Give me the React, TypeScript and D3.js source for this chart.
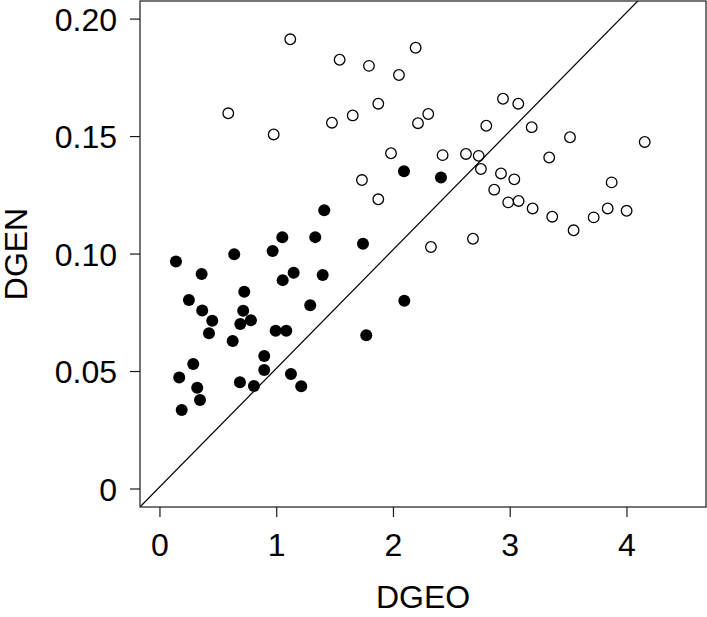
import React from "react";
import * as d3 from "d3";

// DGEO (x) and DGEN (y) values, open circles
const openX = [1.116, 0.585, 0.974, 1.539, 1.790, 2.047, 2.190, 1.473, 1.651, 1.870, 2.210, 2.298, 1.979, 2.421, 1.730, 1.870, 2.621, 2.730, 2.749, 2.938, 3.069, 2.795, 3.184, 3.512, 4.152, 3.334, 2.921, 3.035, 2.863, 3.869, 2.983, 3.072, 3.192, 3.360, 3.715, 3.835, 3.997, 3.543, 2.321, 2.681];
const openY = [0.1914, 0.1599, 0.1509, 0.1827, 0.1801, 0.1762, 0.1878, 0.1559, 0.1590, 0.1640, 0.1557, 0.1596, 0.1429, 0.1421, 0.1315, 0.1233, 0.1426, 0.1418, 0.1362, 0.1661, 0.1640, 0.1546, 0.1540, 0.1497, 0.1477, 0.1411, 0.1343, 0.1318, 0.1274, 0.1305, 0.1220, 0.1226, 0.1194, 0.1159, 0.1156, 0.1194, 0.1184, 0.1101, 0.1030, 0.1065];

// filled circles
const filledX = [0.137, 0.636, 0.965, 0.357, 1.051, 1.145, 1.394, 0.248, 0.722, 0.362, 0.713, 0.448, 0.688, 0.779, 0.420, 0.991, 1.082, 1.287, 0.623, 1.767, 0.893, 0.285, 0.893, 0.165, 1.122, 0.685, 0.319, 0.805, 1.210, 0.343, 0.186, 2.093, 1.407, 1.048, 1.330, 1.739, 2.090, 2.407];
const filledY = [0.0968, 0.0999, 0.1013, 0.0915, 0.0889, 0.0920, 0.0911, 0.0804, 0.0840, 0.0760, 0.0759, 0.0716, 0.0702, 0.0718, 0.0663, 0.0674, 0.0674, 0.0782, 0.0630, 0.0654, 0.0566, 0.0532, 0.0506, 0.0475, 0.0489, 0.0454, 0.0431, 0.0438, 0.0437, 0.0379, 0.0336, 0.0801, 0.1186, 0.1071, 0.1072, 0.1044, 0.1352, 0.1326];

const xTicks = [0, 1, 2, 3, 4];
const xTickLabels = ["0", "1", "2", "3", "4"];
const yTicks = [0, 0.05, 0.1, 0.15, 0.2];
const yTickLabels = ["0", "0.05", "0.10", "0.15", "0.20"];

// reference line y = a + b x
const lineIntercept = 0.001;
const lineSlope = 0.0505;

const W = 707;
const H = 617;
const L = 140, R = 706, T = 1, B = 507;
const FONT = "'Liberation Sans', Arial, Helvetica, sans-serif";
const FS = 32;

export default function App() {
  const x = d3.scaleLinear().domain([-0.171, 4.677]).range([L, R]);
  const y = d3.scaleLinear().domain([-0.00766, 0.2077]).range([B, T]);
  const lx = [-0.3, 4.8];
  const linePath = d3.line<number>()
    .x((d) => x(d))
    .y((d) => y(lineIntercept + lineSlope * d))(lx) as string;
  const stroke = "#1a1a1a";
  return (
    <svg width={W} height={H} style={{ position: "absolute", left: 0, top: 0, background: "#fff" }} fontFamily={FONT}>
      <defs>
        <clipPath id="plotclip">
          <rect x={L} y={T} width={R - L} height={B - T} />
        </clipPath>
      </defs>
      <rect x={0} y={0} width={W} height={H} fill="#fff" />
      <path d={linePath} stroke="#000" strokeWidth={1.2} fill="none" clipPath="url(#plotclip)" />
      {filledX.map((v, i) => (
        <circle key={"f" + i} cx={x(v)} cy={y(filledY[i])} r={6} fill="#000" />
      ))}
      {openX.map((v, i) => (
        <circle key={"o" + i} cx={x(v)} cy={y(openY[i])} r={5.3} fill="none" stroke="#000" strokeWidth={1.3} />
      ))}
      <rect x={L} y={T} width={R - L} height={B - T} fill="none" stroke={stroke} strokeWidth={1.2} />
      {xTicks.map((t, i) => (
        <g key={"xt" + i}>
          <line x1={x(t)} x2={x(t)} y1={B} y2={B + 10} stroke={stroke} strokeWidth={1.2} />
          <text x={x(t)} y={556} textAnchor="middle" fontSize={FS} fill="#000">{xTickLabels[i]}</text>
        </g>
      ))}
      {yTicks.map((t, i) => (
        <g key={"yt" + i}>
          <line x1={L - 10} x2={L} y1={y(t)} y2={y(t)} stroke={stroke} strokeWidth={1.2} />
          <text x={117} y={y(t) + 11.5} textAnchor="end" fontSize={FS} fill="#000">{yTickLabels[i]}</text>
        </g>
      ))}
      <text x={(L + R) / 2} y={608} textAnchor="middle" fontSize={FS} fill="#000">DGEO</text>
      <text transform={`translate(27, ${(T + B) / 2}) rotate(-90)`} textAnchor="middle" fontSize={FS} fill="#000">DGEN</text>
    </svg>
  );
}
